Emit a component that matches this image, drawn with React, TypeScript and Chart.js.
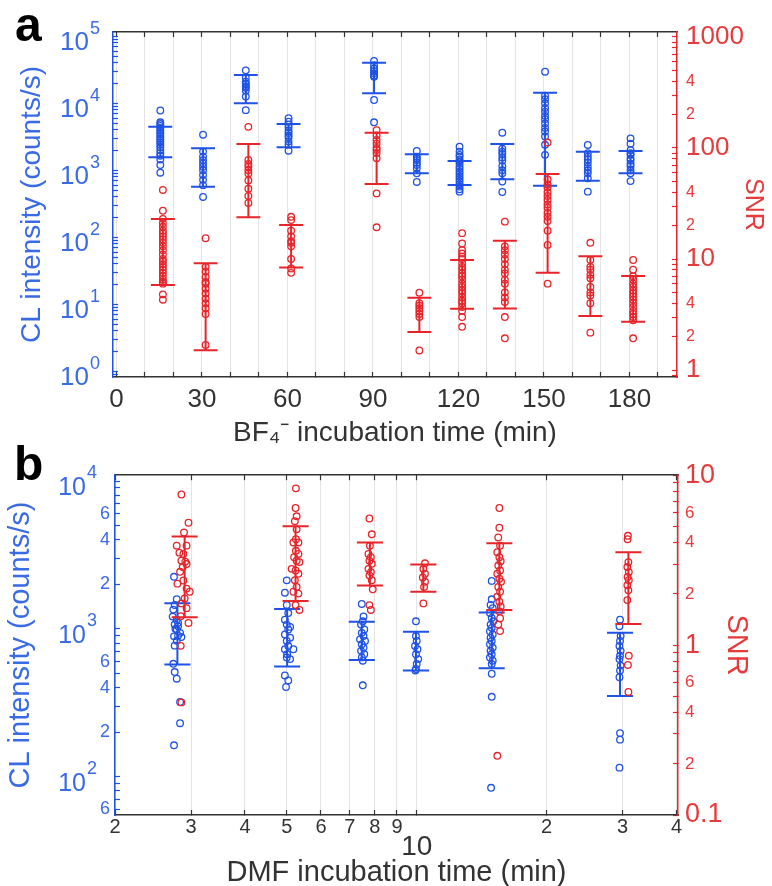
import React, { useEffect, useRef } from 'react';
import { Chart, registerables } from 'chart.js';

Chart.register(...registerables);

const FONT = "'Liberation Sans', Arial, Helvetica, sans-serif";
const BLUE = '#1f52e6';
const BLUE_TEXT = '#3a6be6';
const RED = '#e8242a';
const RED_TEXT = '#e63a3d';
const DARK = '#333333';
const GRID = '#e4e4e4';

// ---------------- Panel a data (BF4- incubation) ----------------
const aGroups = [15, 30, 45, 60, 90, 105, 120, 135, 150, 165, 180];
const aXTicks = [0, 10, 20, 30, 40, 50, 60, 70, 80, 90, 100, 110, 120, 130, 140, 150, 160, 170, 180, 190];
const aXLabelValues = [0, 30, 60, 90, 120, 150, 180];

const aBlueValues = [
  [7800, 5200, 4900, 4600, 4300, 4000, 3700, 3500, 3200, 3000, 2800, 2600, 2400, 2200, 2000, 1800, 1650, 1450, 1200, 920],
  [3400, 1900, 1600, 1420, 1270, 1130, 1000, 850, 720, 600, 400],
  [31000, 24000, 21000, 19500, 18000, 17000, 15500, 12600, 7900],
  [6000, 5300, 4800, 4400, 3900, 3600, 3300, 3100, 2700, 2400, 1960],
  [43000, 37000, 33000, 30000, 28000, 26000, 25000, 11200, 5200],
  [1940, 1600, 1500, 1420, 1300, 1200, 1070, 900, 670],
  [2250, 1900, 1700, 1600, 1450, 1350, 1250, 1130, 1050, 950, 880, 800, 740, 680, 620, 570, 520, 480],
  [3640, 2100, 1900, 1750, 1550, 1400, 1150, 1000, 900, 680, 474],
  [29600, 13000, 11500, 10000, 8500, 7500, 6500, 5800, 5000, 4300, 3800, 3200, 2400, 1700],
  [2390, 1800, 1600, 1450, 1300, 1130, 1000, 900, 760, 480],
  [3000, 2500, 2000, 1800, 1700, 1500, 1400, 1250, 1150, 1000, 900, 690],
];
const aBlueHigh = [4475, 2130, 26450, 4910, 40400, 1733, 1377, 2470, 14400, 1896, 1941];
const aBlueLow = [1563, 569, 10000, 2200, 14100, 902, 604, 734, 589, 700, 902];

const aRedValues = [
  [41.9, 27.2, 23, 21, 19.5, 18, 17, 16, 15, 14, 13, 12, 11, 10, 9.5, 9, 8.5, 8, 7.5, 7, 6.5, 6.2, 6, 4.8, 4.3],
  [15.4, 8.5, 7.7, 6.9, 6.2, 6.0, 5.4, 4.9, 4.4, 4.0, 3.6, 3.2, 1.68],
  [155, 78, 72, 68, 63, 59, 51, 43, 37, 32],
  [24, 22.4, 18, 16, 14.5, 14, 13, 10, 8.2, 7.5],
  [145, 130, 118, 110, 100, 96, 90, 81, 39, 19.3],
  [4.97, 4.0, 3.8, 3.6, 3.4, 3.2, 3.0, 1.5],
  [17.1, 13.8, 12, 11.2, 10.5, 10, 9.2, 8.5, 8, 7.4, 7, 6.5, 6, 5.6, 5.2, 4.9, 4.5, 4.2, 4.0, 3.7, 3.4, 3.0, 2.45],
  [21.7, 13, 12, 11, 10, 9, 8, 7.4, 6.5, 6, 5, 4.5, 4.1, 3, 1.93],
  [112, 52, 47, 44, 40, 37, 34, 31, 29, 26, 24, 22, 18, 13.4, 6],
  [14, 9.8, 8.5, 8.0, 7.2, 6.7, 5.6, 5.0, 4.7, 4.0, 2.17],
  [9.8, 8, 7, 6.5, 6, 5.6, 5.2, 4.9, 4.6, 4.3, 4, 3.7, 3.4, 3.2, 3.0, 2.8, 1.93],
];
const aRedHigh = [22.9, 9.15, 108.6, 20.2, 137, 4.48, 9.8, 14.6, 58.3, 10.6, 7.03];
const aRedLow = [5.83, 1.51, 23.8, 8.4, 47.4, 2.2, 3.56, 3.59, 7.53, 3.06, 2.72];

// ---------------- Panel b data (DMF incubation) ----------------
const bXTicks = [2, 3, 4, 5, 6, 7, 8, 9, 10, 20, 30, 40];

const bBlueX = [
  [2.74, 2.78, 2.75, 2.73, 2.72, 2.78, 2.75, 2.8, 2.78, 2.83, 2.74, 2.85, 2.78, 2.75, 2.8, 2.76, 2.8, 2.73, 2.75, 2.78, 2.83, 2.83, 2.74],
  [5.0, 4.95, 5.0, 5.04, 4.95, 5.0, 5.09, 5.04, 4.95, 5.09, 5.0, 5.04, 4.95, 5.01, 5.18, 5.09, 5.0, 4.95, 5.04, 4.98],
  [7.46, 7.53, 7.5, 7.43, 7.56, 7.46, 7.53, 7.39, 7.59, 7.46, 7.53, 7.43, 7.56, 7.46, 7.5, 7.5],
  [9.96, 9.96, 10.0, 9.91, 10.04, 9.96, 10.08, 10.0, 9.96, 9.93],
  [14.92, 14.92, 14.83, 15.0, 14.78, 14.92, 15.05, 14.83, 14.92, 14.78, 15.0, 14.83, 14.92, 14.78, 15.0, 14.83, 14.92, 14.78, 15.0, 14.92, 14.92, 14.92, 14.87],
  [29.58, 29.49, 29.68, 29.58, 29.49, 29.68, 29.58, 29.49, 29.68, 29.58, 29.49, 29.58, 29.58, 29.49],
];
const bBlueY = [
  [2250, 1590, 1450, 1350, 1210, 1150, 1070, 1040, 990, 940, 890, 880, 830, 770, 1100, 1000, 900, 580, 510, 460, 320, 230, 163],
  [2130, 1757, 1452, 1279, 1153, 1069, 1031, 990, 916, 871, 828, 766, 728, 674, 728, 624, 641, 484, 448, 404],
  [1474, 1214, 1125, 1069, 990, 940, 894, 849, 828, 787, 747, 710, 674, 641, 609, 415],
  [1125, 894, 828, 766, 728, 674, 624, 578, 535, 523],
  [2112, 1585, 1452, 1380, 1279, 1184, 1125, 1069, 1016, 965, 916, 871, 828, 787, 747, 710, 674, 641, 609, 578, 497, 347, 84],
  [1153, 1042, 894, 828, 766, 710, 657, 624, 564, 523, 471, 197, 178, 115],
];
const bBlueBarX = [2.79, 5.01, 7.46, 9.96, 14.92, 29.58];
const bBlueHigh = [1490, 1365, 1119, 955, 1291, 940];
const bBlueLow = [573, 556, 615, 523, 541, 351];

const bRedX = [
  [2.85, 2.96, 2.89, 2.78, 2.93, 2.82, 2.88, 2.85, 2.91, 2.93, 2.87, 2.83, 2.79, 2.88, 2.93, 2.98, 2.9, 2.85, 2.93, 2.84, 2.96, 2.84, 2.85],
  [5.25, 5.24, 5.27, 5.22, 5.27, 5.25, 5.18, 5.32, 5.25, 5.32, 5.2, 5.27, 5.35, 5.13, 5.24, 5.32, 5.22, 5.27, 5.18, 5.32, 5.24, 5.35],
  [7.77, 7.87, 7.79, 7.73, 7.83, 7.77, 7.87, 7.73, 7.83, 7.77, 7.87, 7.91, 7.77, 7.83],
  [10.45, 10.36, 10.45, 10.33, 10.45, 10.4, 10.36],
  [15.54, 15.54, 15.45, 15.6, 15.37, 15.54, 15.65, 15.45, 15.6, 15.37, 15.54, 15.68, 15.45, 15.6, 15.37, 15.54, 15.65, 15.54, 15.6, 15.45, 15.6, 15.37],
  [30.8, 30.85, 30.93, 30.76, 31.0, 30.8, 31.0, 30.76, 30.93, 30.76, 31.0, 30.85, 30.93],
];
const bRedY = [
  [7.7, 5.25, 4.6, 3.85, 3.85, 3.5, 3.44, 3.14, 3.1, 3.0, 2.88, 2.7, 2.3, 2.4, 2.15, 2.06, 1.88, 1.76, 1.65, 1.48, 1.35, 0.99, 0.46],
  [8.37, 6.41, 5.73, 5.36, 4.8, 4.2, 4.02, 4.02, 3.59, 3.44, 3.29, 3.14, 3.08, 2.81, 2.75, 2.63, 2.41, 2.2, 2.06, 2.01, 1.72, 1.61],
  [5.56, 4.49, 3.84, 3.44, 3.29, 3.14, 3.01, 2.81, 2.69, 2.57, 2.41, 2.13, 1.72, 1.61],
  [3.03, 2.81, 2.63, 2.5, 2.36, 2.2, 1.76],
  [6.41, 4.91, 4.3, 3.84, 3.52, 3.29, 3.12, 2.94, 2.75, 2.63, 2.46, 2.36, 2.2, 2.06, 1.93, 1.8, 1.69, 1.58, 1.44, 1.32, 1.21, 0.223],
  [4.2, 4.4, 3.08, 2.88, 2.69, 2.52, 2.41, 2.25, 2.1, 1.84, 0.866, 0.764, 0.53],
];
const bRedBarX = [2.9, 5.24, 7.79, 10.36, 15.54, 30.93];
const bRedHigh = [4.35, 5.01, 4.02, 2.98, 3.98, 3.52];
const bRedLow = [1.46, 1.82, 2.24, 2.06, 1.61, 1.33];

// ---------------- style constants ----------------
const A_BLUE_DX = 0.4;
const A_RED_DX = 1.3;
const A_CAP = 4.2;
const B_CAP = 1.072;

function mantissa(v: number) {
  const e = Math.floor(Math.log10(v) + 1e-9);
  return Math.round(v / Math.pow(10, e));
}
function exponent(v: number) {
  return Math.round(Math.log10(v));
}
function logTicks(min: number, max: number) {
  const out: number[] = [];
  for (let k = Math.floor(Math.log10(min)) - 1; k <= Math.ceil(Math.log10(max)); k++) {
    for (let m = 1; m <= 9; m++) {
      const v = Number((m * Math.pow(10, k)).toPrecision(6));
      if (v >= min * 0.9999 && v <= max * 1.0001) out.push(v);
    }
  }
  return out;
}

function errorBars(xs: number[], lows: number[], highs: number[], capL: (x: number) => number, capR: (x: number) => number) {
  const pts: any[] = [];
  xs.forEach((x, i) => {
    const lo = lows[i];
    const hi = highs[i];
    pts.push({ x: capL(x), y: hi }, { x: capR(x), y: hi }, { x, y: null });
    pts.push({ x, y: hi }, { x, y: lo }, { x, y: null });
    pts.push({ x: capL(x), y: lo }, { x: capR(x), y: lo }, { x, y: null });
  });
  return pts;
}

function pointsDs(data: any[], color: string, yAxisID: string) {
  return {
    type: 'scatter',
    data,
    xAxisID: 'x',
    yAxisID,
    showLine: false,
    pointStyle: 'circle',
    pointRadius: 3.3,
    pointBorderWidth: 1.3,
    borderColor: color,
    pointBorderColor: color,
    backgroundColor: 'rgba(0,0,0,0)',
    pointBackgroundColor: 'rgba(0,0,0,0)',
  };
}
function barsDs(data: any[], color: string, yAxisID: string) {
  return {
    type: 'scatter',
    data,
    xAxisID: 'x',
    yAxisID,
    showLine: true,
    spanGaps: false,
    fill: false,
    borderColor: color,
    borderWidth: 2,
    pointRadius: 0,
    pointHoverRadius: 0,
  };
}

// Draws the decade labels "10" with a real superscript exponent next to the left log axis.
const supLabelPlugin = {
  id: 'supLabels',
  afterDraw(chart: any, _args: any, opts: any) {
    const s = chart.scales[opts.axis];
    if (!s) return;
    const ctx = chart.ctx;
    ctx.save();
    ctx.fillStyle = opts.color;
    ctx.textBaseline = 'middle';
    ctx.textAlign = 'right';
    s.ticks.forEach((t: any) => {
      if (mantissa(t.value) !== 1) return;
      const y = s.getPixelForValue(t.value);
      const sup = String(exponent(t.value));
      ctx.font = `${opts.supSize}px ${FONT}`;
      const sw = ctx.measureText(sup).width;
      ctx.fillText(sup, opts.right, y + opts.supDy);
      ctx.font = `${opts.baseSize}px ${FONT}`;
      ctx.fillText('10', opts.right - sw - 1, y + opts.baseDy);
    });
    ctx.restore();
  },
};

function yAxis(opts: any) {
  const ticks = logTicks(opts.min, opts.max);
  return {
    type: 'logarithmic',
    position: opts.position,
    min: opts.min,
    max: opts.max,
    afterBuildTicks: (s: any) => {
      s.ticks = ticks.map((v) => ({ value: v }));
    },
    afterFit: (s: any) => {
      s.width = opts.width;
    },
    grid: { drawOnChartArea: false, drawTicks: true, tickLength: -5, tickColor: opts.color, tickWidth: 1.2 },
    border: { color: opts.color, width: 1.5 },
    ticks: {
      autoSkip: false,
      color: opts.textColor,
      padding: opts.padding,
      font: (ctx: any) => {
        const v = ctx.tick ? ctx.tick.value : 1;
        return mantissa(v) === 1 ? { family: FONT, size: opts.majorSize } : { family: FONT, size: opts.minorSize };
      },
      callback: (v: any) => opts.label(Number(v)),
    },
    title: {
      display: true,
      text: opts.title,
      color: opts.textColor,
      font: { family: FONT, size: opts.titleSize },
      padding: { top: opts.titlePad, bottom: 0 },
    },
  };
}

function topAxis(type: string, min: number, max: number, tickVals: number[], height: number) {
  return {
    type,
    position: 'top',
    min,
    max,
    afterBuildTicks: (s: any) => {
      s.ticks = tickVals.map((v) => ({ value: v }));
    },
    afterFit: (s: any) => {
      s.height = height;
    },
    grid: { drawOnChartArea: false, drawTicks: true, tickLength: -5, tickColor: DARK, tickWidth: 1.2 },
    border: { color: DARK, width: 1.5 },
    ticks: { display: false },
  };
}

function configA(): any {
  const bluePts = aGroups.flatMap((g, i) => aBlueValues[i].map((v) => ({ x: g + A_BLUE_DX, y: v })));
  const redPts = aGroups.flatMap((g, i) => aRedValues[i].map((v) => ({ x: g + A_RED_DX, y: v })));
  const blueBars = errorBars(aGroups.map((g) => g + A_BLUE_DX), aBlueLow, aBlueHigh, (x) => x - A_CAP, (x) => x + A_CAP);
  const redBars = errorBars(aGroups.map((g) => g + A_RED_DX), aRedLow, aRedHigh, (x) => x - A_CAP, (x) => x + A_CAP);
  const XMIN = -1.2;
  const XMAX = 196.7;
  return {
    type: 'scatter',
    data: {
      datasets: [
        pointsDs(redPts, RED, 'yR'),
        barsDs(redBars, RED, 'yR'),
        pointsDs(bluePts, BLUE, 'yL'),
        barsDs(blueBars, BLUE, 'yL'),
      ],
    },
    plugins: [supLabelPlugin],
    options: {
      responsive: false,
      animation: false,
      events: [],
      layout: { padding: 0 },
      plugins: {
        legend: { display: false },
        tooltip: { enabled: false },
        supLabels: { axis: 'yL', color: BLUE_TEXT, right: 100, baseSize: 26, supSize: 18, baseDy: 7, supDy: -7 },
      },
      scales: {
        x: {
          type: 'linear',
          position: 'bottom',
          min: XMIN,
          max: XMAX,
          afterBuildTicks: (s: any) => {
            s.ticks = aXTicks.map((v) => ({ value: v }));
          },
          afterFit: (s: any) => {
            s.height = 70;
          },
          grid: { color: GRID, lineWidth: 1, drawTicks: true, tickLength: -5, tickColor: DARK, tickWidth: 1.2 },
          border: { color: DARK, width: 1.5 },
          ticks: {
            autoSkip: false,
            maxRotation: 0,
            minRotation: 0,
            color: DARK,
            padding: 12,
            font: { family: FONT, size: 26 },
            callback: (v: any) => (aXLabelValues.includes(Number(v)) ? String(v) : ''),
          },
          title: {
            display: true,
            text: 'BF₄⁻ incubation time (min)',
            color: DARK,
            font: { family: FONT, size: 28 },
            padding: { top: 0, bottom: -3 },
          },
        },
        xTop: topAxis('linear', XMIN, XMAX, aXTicks, 32),
        yL: yAxis({
          position: 'left',
          min: 0.822,
          max: 1.159e5,
          width: 113,
          color: BLUE,
          textColor: BLUE_TEXT,
          padding: 11,
          majorSize: 22,
          minorSize: 15,
          label: () => '',
          title: 'CL intensity (counts/s)',
          titleSize: 28,
          titlePad: 15,
        }),
        yR: yAxis({
          position: 'right',
          min: 0.865,
          max: 1109,
          width: 95,
          color: RED,
          textColor: RED_TEXT,
          padding: 14,
          majorSize: 26,
          minorSize: 16,
          label: (v: number) => {
            const m = mantissa(v);
            if (m === 1) return String(v);
            return m === 2 || m === 4 ? String(m) : '';
          },
          title: 'SNR',
          titleSize: 25,
          titlePad: 4,
        }),
      },
    },
  };
}

function configB(): any {
  const bluePts = bBlueX.flatMap((xs, i) => xs.map((x, j) => ({ x, y: bBlueY[i][j] })));
  const redPts = bRedX.flatMap((xs, i) => xs.map((x, j) => ({ x, y: bRedY[i][j] })));
  const blueBars = errorBars(bBlueBarX, bBlueLow, bBlueHigh, (x) => x / B_CAP, (x) => x * B_CAP);
  const redBars = errorBars(bRedBarX, bRedLow, bRedHigh, (x) => x / B_CAP, (x) => x * B_CAP);
  const XMIN = 2;
  const XMAX = 40.3;
  return {
    type: 'scatter',
    data: {
      datasets: [
        pointsDs(redPts, RED, 'yR'),
        barsDs(redBars, RED, 'yR'),
        pointsDs(bluePts, BLUE, 'yL'),
        barsDs(blueBars, BLUE, 'yL'),
      ],
    },
    plugins: [supLabelPlugin],
    options: {
      responsive: false,
      animation: false,
      events: [],
      layout: { padding: 0 },
      plugins: {
        legend: { display: false },
        tooltip: { enabled: false },
        supLabels: { axis: 'yL', color: BLUE_TEXT, right: 97, baseSize: 25, supSize: 18, baseDy: 7, supDy: -8 },
      },
      scales: {
        x: {
          type: 'logarithmic',
          position: 'bottom',
          min: XMIN,
          max: XMAX,
          afterBuildTicks: (s: any) => {
            s.ticks = bXTicks.map((v) => ({ value: v }));
          },
          afterFit: (s: any) => {
            s.height = 71;
          },
          grid: { color: GRID, lineWidth: 1, drawTicks: true, tickLength: -5, tickColor: DARK, tickWidth: 1.2 },
          border: { color: DARK, width: 1.5 },
          ticks: {
            autoSkip: false,
            maxRotation: 0,
            minRotation: 0,
            color: DARK,
            padding: 5,
            font: (ctx: any) => {
              const v = ctx.tick ? ctx.tick.value : 2;
              return v === 10 ? { family: FONT, size: 28, lineHeight: 0.78 } : { family: FONT, size: 20 };
            },
            callback: (v: any) => {
              const n = Number(v);
              if (n === 10) return ['', '10'];
              return n < 10 ? String(n) : String(Math.round(n / 10));
            },
          },
          title: {
            display: true,
            text: 'DMF incubation time (min)',
            color: DARK,
            font: { family: FONT, size: 29 },
            padding: { top: 0, bottom: -4 },
          },
        },
        xTop: topAxis('logarithmic', XMIN, XMAX, bXTicks, 23),
        yL: yAxis({
          position: 'left',
          min: 55,
          max: 10960,
          width: 115,
          color: BLUE,
          textColor: BLUE_TEXT,
          padding: 10,
          majorSize: 22,
          minorSize: 18,
          label: (v: number) => {
            const m = mantissa(v);
            if (m === 1) return '';
            return m === 2 || m === 4 || m === 6 ? String(m) : '';
          },
          title: 'CL intensity (counts/s)',
          titleSize: 29,
          titlePad: 4,
        }),
        yR: yAxis({
          position: 'right',
          min: 0.1,
          max: 10,
          width: 94,
          color: RED,
          textColor: RED_TEXT,
          padding: 12,
          majorSize: 27,
          minorSize: 17,
          label: (v: number) => {
            const m = mantissa(v);
            if (m === 1) return String(v);
            return m === 2 || m === 4 || m === 6 ? String(m) : '';
          },
          title: 'SNR',
          titleSize: 29,
          titlePad: 19,
        }),
      },
    },
  };
}

function ChartCanvas({ config, width, height, top }: { config: () => any; width: number; height: number; top: number }) {
  const ref = useRef<HTMLCanvasElement | null>(null);
  useEffect(() => {
    if (!ref.current) return;
    const chart = new Chart(ref.current, config());
    return () => chart.destroy();
  }, [config]);
  return (
    <canvas
      ref={ref}
      width={width}
      height={height}
      style={{ position: 'absolute', left: 0, top, width, height, display: 'block' }}
    />
  );
}

export default function App() {
  const letter: React.CSSProperties = {
    position: 'absolute',
    fontFamily: FONT,
    fontWeight: 'bold',
    fontSize: 48,
    lineHeight: '48px',
    color: '#000',
  };
  return (
    <div style={{ position: 'absolute', left: 0, top: 0, width: 772, height: 886, background: '#fff', overflow: 'hidden' }}>
      <ChartCanvas config={configA} width={772} height={447} top={0} />
      <ChartCanvas config={configB} width={772} height={439} top={447} />
      <div style={{ ...letter, left: 15, top: 1 }}>a</div>
      <div style={{ ...letter, left: 14, top: 440 }}>b</div>
    </div>
  );
}
